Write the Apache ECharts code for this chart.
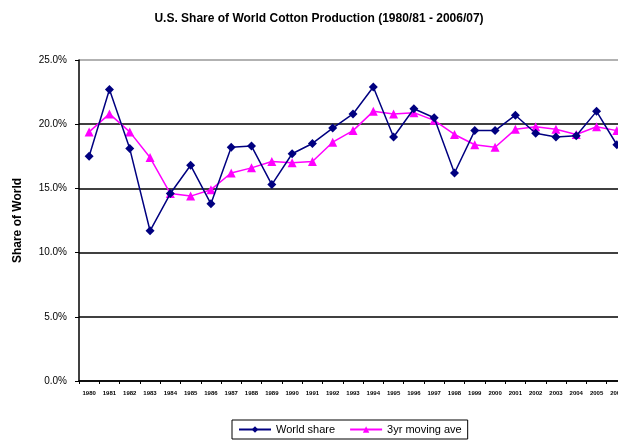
<!DOCTYPE html>
<html>
<head>
<meta charset="utf-8">
<script src="https://cdn.jsdelivr.net/npm/echarts@6/dist/echarts.min.js"></script>
<style>
  html, body { margin: 0; padding: 0; background: #fff; }
  #chart { width: 618px; height: 442px; }
</style>
</head>
<body>
<div id="chart"></div>
<script>
'use strict'
// Crop years 1980/81 .. 2006/07
var years = ['1980', '1981', '1982', '1983', '1984', '1985', '1986', '1987', '1988',
  '1989', '1990', '1991', '1992', '1993', '1994', '1995', '1996', '1997', '1998',
  '1999', '2000', '2001', '2002', '2003', '2004', '2005', '2006']
// US share of world production (%)
var worldShare = [17.5, 22.7, 18.1, 11.7, 14.6, 16.8, 13.8, 18.2, 18.3,
  15.3, 17.7, 18.5, 19.7, 20.8, 22.9, 19.0, 21.2, 20.5, 16.2,
  19.5, 19.5, 20.7, 19.3, 19.0, 19.1, 21.0, 18.4]
// 3yr moving average (%)
var movingAve = [19.4, 20.8, 19.4, 17.4, 14.6, 14.4, 14.9, 16.2, 16.6,
  17.1, 17.0, 17.1, 18.6, 19.5, 21.0, 20.8, 20.9, 20.3, 19.2,
  18.4, 18.2, 19.6, 19.8, 19.6, 19.2, 19.8, 19.5]
var yTicks = [0, 5, 10, 15, 20, 25]

var chart = echarts.init(document.getElementById('chart'))

chart.setOption({
  animation: false,
  title: {
    text: 'U.S. Share of World Cotton Production (1980/81 - 2006/07)',
    left: 314,
    textAlign: 'center',
    top: 8,
    textStyle: { fontFamily: 'Arial, Liberation Sans', fontSize: 12, fontWeight: 'bold', color: '#000' }
  },
  legend: {
    bottom: 3,
    left: 232,
    itemGap: 14,
    itemWidth: 32,
    itemHeight: 8,
    padding: [4, 6, 4, 6],
    borderColor: '#000',
    borderWidth: 1,
    borderRadius: 0,
    textStyle: { fontFamily: 'Arial, Liberation Sans', fontSize: 11, color: '#000' },
    data: ['World share', '3yr moving ave']
  },
  grid: {
    left: 79,
    right: -9,
    top: 60,
    bottom: 61,
    containLabel: false,
    outerBoundsMode: 'none'
  },
  xAxis: {
    type: 'category',
    data: years,
    boundaryGap: true,
    axisLine: { lineStyle: { color: '#000', width: 1.5 } },
    axisTick: { show: true, length: 3, lineStyle: { color: '#000' } },
    axisLabel: {
      interval: 0,
      fontSize: 6,
      fontWeight: 'bold',
      color: '#000',
      margin: 9,
      fontFamily: 'Arial, Liberation Sans'
    }
  },
  yAxis: {
    type: 'value',
    min: yTicks[0],
    max: yTicks[yTicks.length - 1],
    interval: 5,
    name: 'Share of World',
    nameLocation: 'middle',
    nameGap: 55,
    nameTextStyle: { fontFamily: 'Arial, Liberation Sans', fontSize: 12, fontWeight: 'bold', color: '#000' },
    axisLine: { show: true, lineStyle: { color: '#000', width: 1.5 } },
    axisTick: { show: true, length: 4, lineStyle: { color: '#000' } },
    axisLabel: {
      formatter: function (v) { return v.toFixed(1) + '%' },
      fontSize: 10,
      color: '#000',
      margin: 12,
      fontFamily: 'Arial, Liberation Sans'
    },
    splitLine: {
      lineStyle: { color: ['#000', '#000', '#000', '#000', '#000', '#999'], width: 1.5 }
    }
  },
  series: [
    {
      name: 'World share',
      type: 'line',
      data: worldShare,
      symbol: 'diamond',
      symbolSize: 9,
      lineStyle: { color: '#000080', width: 1.5 },
      itemStyle: { color: '#000080' },
      z: 3
    },
    {
      name: '3yr moving ave',
      type: 'line',
      data: movingAve,
      symbol: 'triangle',
      symbolSize: 9,
      lineStyle: { color: '#ff00ff', width: 1.5 },
      itemStyle: { color: '#ff00ff' },
      z: 2
    }
  ]
})
</script>
</body>
</html>
